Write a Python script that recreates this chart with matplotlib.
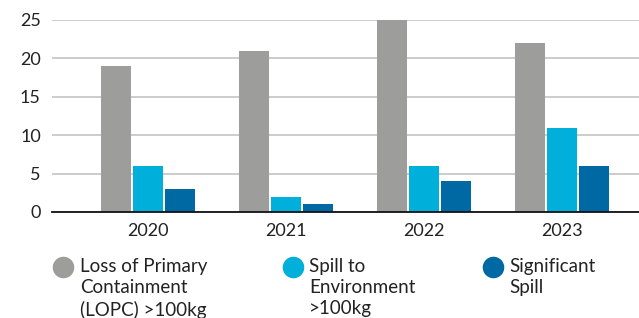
import numpy as np
import matplotlib.pyplot as plt
from matplotlib.lines import Line2D

years = ["2020", "2021", "2022", "2023"]
lopc = [19, 21, 25, 22]
spill_env = [6, 2, 6, 11]
significant = [3, 1, 4, 6]

series_labels = ["Loss of Primary\nContainment\n(LOPC) >100kg",
                 "Spill to\nEnvironment\n>100kg",
                 "Significant\nSpill"]
colors = ["#9d9d9c", "#00b0da", "#0069a3"]

plt.rcParams['font.family'] = ['Lato', 'DejaVu Sans']
text_color = "#222222"

fig = plt.figure(figsize=(6.39, 3.18), dpi=100)
ax = fig.add_axes([52 / 639, 1 - 212 / 318, 1 - 52 / 639, (212 - 20) / 318])

x = np.arange(len(years))
width = 0.217
pitch = 0.232
for i, vals in enumerate([lopc, spill_env, significant]):
    ax.bar(x + (i - 1) * pitch, vals, width, color=colors[i], zorder=3)

ax.set_ylim(0, 25)
ax.set_yticks([0, 5, 10, 15, 20, 25])
ax.set_xlim(-0.696, 3.558)
ax.set_xticks(x)
ax.set_xticklabels(years)
ax.grid(axis="y", color="#c8c8c8", linewidth=1.3, zorder=0)
for s in ["top", "right", "left"]:
    ax.spines[s].set_visible(False)
ax.spines["bottom"].set_color("#111111")
ax.spines["bottom"].set_linewidth(1.3)
ax.spines["bottom"].set_zorder(4)
ax.tick_params(axis="both", length=0, labelsize=13, labelcolor=text_color)
ax.tick_params(axis="y", pad=8)
ax.tick_params(axis="x", pad=8)

# legend drawn by hand so the markers sit on the first line
marker_x = [63, 293, 493]
text_x = [80, 309, 509]
for i in range(3):
    fig.add_artist(Line2D([marker_x[i] / 639], [1 - 266.5 / 318], marker="o",
                          markersize=14.5, color=colors[i], linestyle="none",
                          transform=fig.transFigure))
    fig.text(text_x[i] / 639, 1 - 258 / 318, series_labels[i], ha="left", va="top",
             fontsize=13.5, color=text_color, linespacing=1.3)

plt.savefig("out.png", dpi=100)
